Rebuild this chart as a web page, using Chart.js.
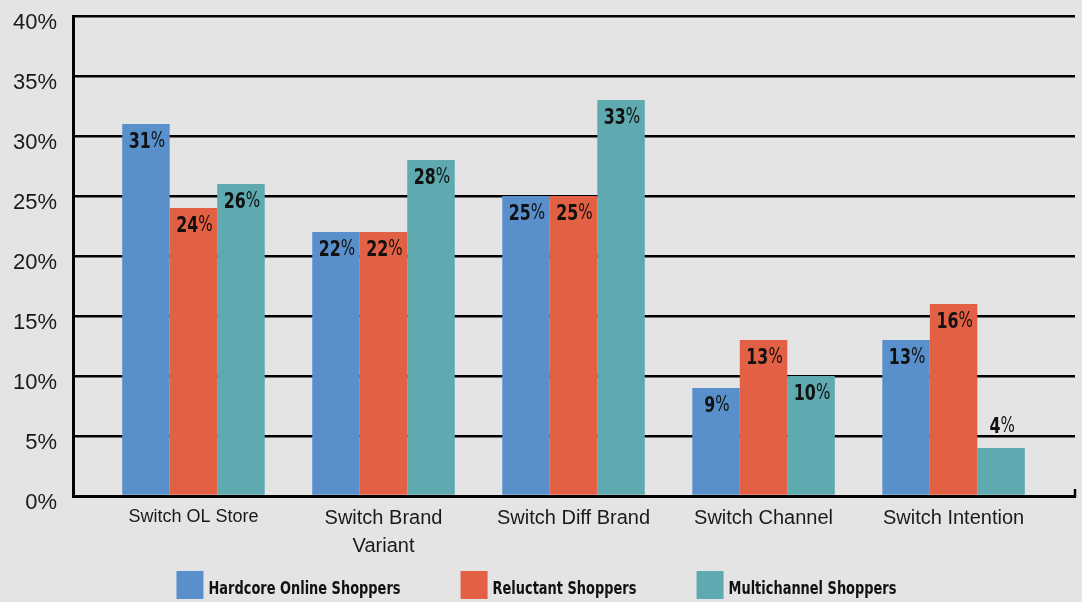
<!DOCTYPE html>
<html>
<head>
<meta charset="utf-8">
<title>Switching behaviour by shopper type</title>
<script src="https://cdn.jsdelivr.net/npm/chart.js@4.4.1/dist/chart.umd.min.js"></script>
<style>
    html, body { margin: 0; padding: 0; background: #e4e4e4; }
    #wrap { width: 1082px; height: 602px; }
</style>
</head>
<body>
<div id="wrap"><canvas id="switchChart" width="1082" height="602"></canvas></div>
<script>
// chart data
const categories = ['Switch OL Store', ['Switch Brand', 'Variant'], 'Switch Diff Brand', 'Switch Channel', 'Switch Intention'];
const seriesNames = ['Hardcore Online Shoppers', 'Reluctant Shoppers', 'Multichannel Shoppers'];
const hardcoreValues = [31, 22, 25, 9, 13];
const reluctantValues = [24, 22, 25, 13, 16];
const multichannelValues = [26, 28, 33, 10, 4];
const yTicks = [0, 5, 10, 15, 20, 25, 30, 35, 40];

const colors = ['#5990cb', '#e26044', '#5eaab0'];
const condensed = "'DejaVu Sans Condensed', 'DejaVu Sans', sans-serif";
const regular = "'Liberation Sans', Arial, sans-serif";
const squeeze = 0.8;          // horizontal squeeze for the bold condensed texts
const legendSize = 18;

// draws text squeezed horizontally, x is the left edge
function narrowText(ctx, text, x, y) {
    ctx.save();
    ctx.translate(x, y);
    ctx.scale(squeeze, 1);
    ctx.fillText(text, 0, 0);
    ctx.restore();
}

// value labels: bold number, lighter percent sign, inside the bar top
// (or above it when the bar is too short)
const valueLabels = {
    id: 'valueLabels',
    afterLayout(chart) {
        // let the category labels run into the free space above the legend
        chart.scales.x.bottom = chart.height;
    },
    afterDatasetsDraw(chart) {
        const ctx = chart.ctx;
        ctx.save();
        ctx.fillStyle = '#111';
        ctx.textBaseline = 'middle';
        ctx.textAlign = 'left';
        chart.data.datasets.forEach((ds, di) => {
            chart.getDatasetMeta(di).data.forEach((bar, i) => {
                const v = ds.data[i].y;
                const num = String(v);
                ctx.font = 'bold 22px ' + condensed;
                const wNum = ctx.measureText(num).width * squeeze;
                ctx.font = '21px ' + condensed;
                const wPct = ctx.measureText('%').width * squeeze;
                const x0 = bar.x - (wNum + wPct) / 2 + 1;
                const y = v < 5 ? bar.y - 21 : bar.y + 18;
                ctx.font = 'bold 22px ' + condensed;
                narrowText(ctx, num, x0, y);
                ctx.font = '21px ' + condensed;
                narrowText(ctx, '%', x0 + wNum, y);
            });
        });
        // small end tick on the category axis
        const area = chart.chartArea;
        ctx.strokeStyle = '#000';
        ctx.lineWidth = 2.5;
        ctx.beginPath();
        ctx.moveTo(area.right, area.bottom - 7);
        ctx.lineTo(area.right, area.bottom + 1);
        ctx.stroke();
        ctx.restore();
    },
    afterDraw(chart) {
        // legend texts in a squeezed bold face, placed on the legend's own boxes
        const legend = chart.legend;
        const ctx = chart.ctx;
        ctx.save();
        ctx.fillStyle = '#111';
        ctx.textBaseline = 'middle';
        ctx.textAlign = 'left';
        ctx.font = 'bold ' + legendSize + 'px ' + condensed;
        legend.legendItems.forEach((item, i) => {
            const hb = legend.legendHitBoxes[i];
            narrowText(ctx, item.text, hb.left + 27 + 5, hb.top + hb.height / 2 + 4);
        });
        ctx.restore();
    }
};

const datasets = [hardcoreValues, reluctantValues, multichannelValues].map((vals, i) => ({
    label: seriesNames[i],
    data: vals.map((v, k) => ({ x: k, y: v })),
    backgroundColor: colors[i],
    borderWidth: 0,
    categoryPercentage: 0.75,
    barPercentage: 1.0
}));

new Chart(document.getElementById('switchChart'), {
    type: 'bar',
    data: { datasets: datasets },
    options: {
        responsive: false,
        animation: false,
        layout: { padding: { top: 16, right: 7, left: 0, bottom: -7 } },
        scales: {
            x: {
                type: 'linear',
                min: -0.634,
                max: 4.639,
                offset: false,
                grid: { display: false, offset: false },
                border: { display: true, color: '#000', width: 3 },
                afterFit(scale) { scale.height = 17; },
                afterBuildTicks(scale) { scale.ticks = categories.map((c, k) => ({ value: k })); },
                ticks: {
                    color: '#1a1a1a',
                    padding: 0,
                    maxRotation: 0,
                    autoSkip: false,
                    callback: (v) => categories[v],
                    font: (c) => ({ family: regular, size: c.index === 0 ? 18 : 20, lineHeight: 1.4 })
                }
            },
            y: {
                min: 0,
                max: 40,
                afterFit(scale) {
                    scale.width = 73;
                    scale.paddingTop = 13;
                    scale.paddingBottom = 13;
                },
                afterBuildTicks(scale) { scale.ticks = yTicks.map(v => ({ value: v })); },
                grid: { color: '#000', lineWidth: 2.5, drawTicks: false },
                border: { display: true, color: '#000', width: 3 },
                ticks: {
                    color: '#1a1a1a',
                    padding: 16,
                    labelOffset: 7,
                    font: { family: regular, size: 22 },
                    callback: (v) => v + '%'
                }
            }
        },
        plugins: {
            legend: {
                position: 'bottom',
                labels: {
                    boxWidth: 27,
                    boxHeight: 28,
                    padding: 58,
                    color: 'rgba(0,0,0,0)',
                    font: { family: condensed, size: legendSize * squeeze, weight: 'bold' }
                }
            },
            tooltip: { enabled: false }
        }
    },
    plugins: [valueLabels]
});
</script>
</body>
</html>
